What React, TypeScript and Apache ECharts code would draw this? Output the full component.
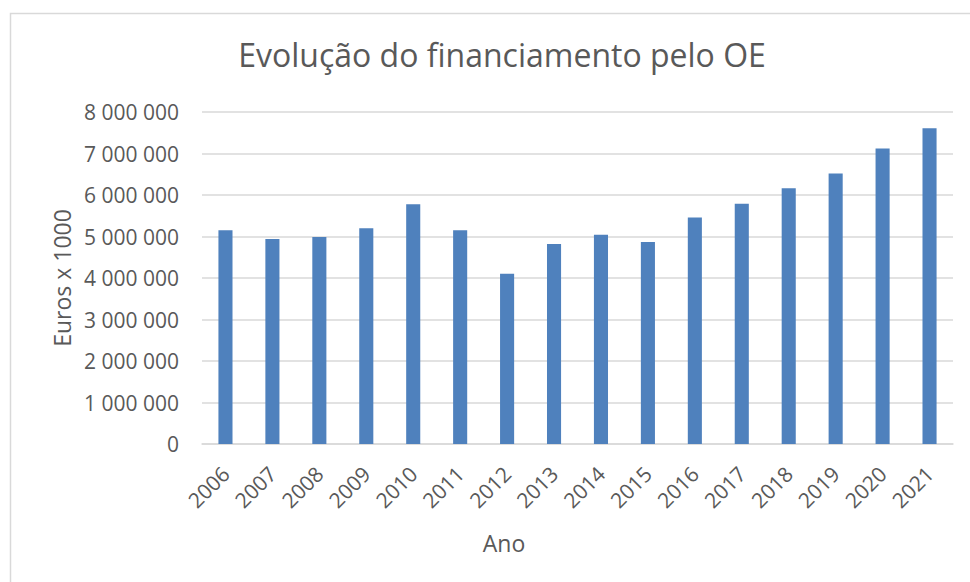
import React, { useEffect, useRef } from "react";
import * as echarts from "echarts";

const years = ["2006","2007","2008","2009","2010","2011","2012","2013","2014","2015","2016","2017","2018","2019","2020","2021"];
const values = [5150000, 4940000, 4990000, 5200000, 5780000, 5150000, 4100000, 4820000, 5040000, 4870000, 5460000, 5790000, 6160000, 6520000, 7120000, 7610000];
const yTicks = [0, 1000000, 2000000, 3000000, 4000000, 5000000, 6000000, 7000000, 8000000];

const titleText = "Evolução do financiamento pelo OE";
const yName = "Euros x 1000";
const xName = "Ano";

function fmt(v: number): string {
  return String(Math.round(v)).replace(/\B(?=(\d{3})+(?!\d))/g, " ");
}

export default function App() {
  const ref = useRef<HTMLDivElement>(null);
  useEffect(() => {
    if (!ref.current) return;
    const chart = echarts.init(ref.current, undefined, { renderer: "svg" });
    const font = "'Open Sans', sans-serif";
    chart.setOption({
      animation: false,
      backgroundColor: "#ffffff",
      textStyle: { fontFamily: font },
      title: {
        text: titleText,
        left: 497,
        textAlign: "center",
        top: 33,
        textStyle: { fontFamily: font, fontSize: 32, fontWeight: "normal", color: "#595959" },
      },
      graphic: [
        {
          type: "rect",
          shape: { x: 10.5, y: 13.5, width: 1000, height: 700 },
          style: { fill: "none", stroke: "#d9d9d9", lineWidth: 1.5 },
          silent: true,
        },
        {
          type: "text",
          x: 504,
          y: 543,
          style: {
            text: xName,
            fontFamily: font,
            fontSize: 23,
            fill: "#595959",
            align: "center",
            verticalAlign: "middle",
          },
          silent: true,
        },
      ],
      grid: { left: 202, right: 17, top: 112, bottom: 138 },
      xAxis: {
        type: "category",
        data: years,
        axisLine: { lineStyle: { color: "#d9d9d9", width: 1.5 } },
        axisTick: { show: false },
        axisLabel: { rotate: 45, fontSize: 21, color: "#595959", margin: 26, fontFamily: font },
      },
      yAxis: {
        type: "value",
        min: yTicks[0],
        max: yTicks[yTicks.length - 1],
        interval: 1000000,
        name: yName,
        nameLocation: "middle",
        nameGap: 128,
        nameTextStyle: { fontSize: 23, color: "#595959", fontFamily: font },
        axisLine: { show: false },
        axisTick: { show: false },
        axisLabel: { fontSize: 21, color: "#595959", margin: 23, fontFamily: font, formatter: (v: number) => fmt(v) },
        splitLine: { lineStyle: { color: "#d9d9d9", width: 1.5 } },
      },
      series: [
        {
          type: "bar",
          data: values,
          barWidth: "30%",
          itemStyle: { color: "#4f81bd" },
        },
      ],
    });
    return () => chart.dispose();
  }, []);
  return <div ref={ref} style={{ position: "fixed", left: 0, top: 0, width: 970, height: 582 }} />;
}
